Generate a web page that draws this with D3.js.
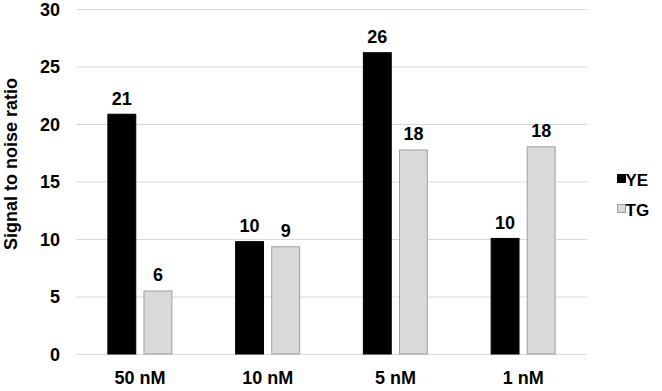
<!DOCTYPE html>
<html>
<head>
<meta charset="utf-8">
<script src="https://cdn.jsdelivr.net/npm/d3@7"></script>
<style>
  body { margin: 0; background: #fff; }
  text { font-family: "Liberation Sans", Arial, sans-serif; font-weight: bold; fill: #000; }
</style>
</head>
<body>
<svg></svg>
<script>
const categories = ['50 nM', '10 nM', '5 nM', '1 nM']
const seriesNames = ['YE', 'TG']
const yeValues = [20.85, 9.77, 26.2, 10.05]
const tgValues = [5.48, 9.33, 17.74, 18.02]
const yeLabels = ['21', '10', '26', '10']
const tgLabels = ['6', '9', '18', '18']
const yTicks = [0, 5, 10, 15, 20, 25, 30]

const width = 662
const height = 391
const margin = {left: 76, right: 75, top: 9, bottom: 37}

const svg = d3.select('svg')
    .attr('width', width)
    .attr('height', height)

let xScale = d3.scaleBand()
    .domain(categories)
    .range([margin.left, width - margin.right])

let inner = d3.scaleBand()
    .domain(seriesNames)
    .range([xScale.bandwidth()/2 - 32.5, xScale.bandwidth()/2 + 32.5])
    .paddingInner(0.2)

let yScale = d3.scaleLinear()
    .domain([0, 30])
    .range([height - margin.bottom, margin.top])

// grid
svg.append('g')
    .selectAll('line')
    .data(yTicks)
    .enter()
    .append('line')
    .attr('x1', margin.left)
    .attr('x2', width - margin.right)
    .attr('y1', d => yScale(d) + 0.5)
    .attr('y2', d => yScale(d) + 0.5)
    .attr('stroke', '#d9d9d9')
    .attr('stroke-width', 1)

// y axis labels
let yAxis = d3.axisLeft(yScale).tickValues(yTicks).tickSize(0).tickPadding(16)
let yg = svg.append('g')
    .attr('transform', 'translate(' + margin.left + ',0)')
    .call(yAxis)
yg.select('.domain').remove()
yg.selectAll('text').style('font-size', '18px').attr('dy', '0.36em')

// x axis labels
let xAxis = d3.axisBottom(xScale).tickSize(0).tickPadding(17)
let xg = svg.append('g')
    .attr('transform', 'translate(0,' + (height - margin.bottom) + ')')
    .call(xAxis)
xg.select('.domain').remove()
xg.selectAll('text').style('font-size', '18px')

let series = [
    {name: 'YE', values: yeValues, labels: yeLabels, fill: '#000000', stroke: '#000000'},
    {name: 'TG', values: tgValues, labels: tgLabels, fill: '#d9d9d9', stroke: '#a0a0a0'}
]

series.forEach(s => {
    let g = svg.append('g')
    g.selectAll('rect')
        .data(categories)
        .enter()
        .append('rect')
        .attr('x', (c) => xScale(c) + inner(s.name) + 0.5)
        .attr('width', inner.bandwidth() - 1)
        .attr('y', (c, i) => yScale(s.values[i]))
        .attr('height', (c, i) => yScale(0) - yScale(s.values[i]))
        .attr('fill', s.fill)
        .attr('stroke', s.stroke)
        .attr('stroke-width', 1)
    g.selectAll('text')
        .data(categories)
        .enter()
        .append('text')
        .attr('x', (c) => xScale(c) + inner(s.name) + inner.bandwidth()/2)
        .attr('y', (c, i) => yScale(s.values[i]) - 9.5)
        .attr('text-anchor', 'middle')
        .style('font-size', '18px')
        .text((c, i) => s.labels[i])
})

// y title
svg.append('text')
    .attr('transform', 'translate(17,164) rotate(-90)')
    .attr('text-anchor', 'middle')
    .style('font-size', '18px')
    .text('Signal to noise ratio')

// legend
let legend = svg.append('g')
    .selectAll('g')
    .data(series)
    .enter()
    .append('g')
    .attr('transform', (d, i) => 'translate(617,' + (174 + i*30) + ')')
legend.append('rect')
    .attr('x', 0.5)
    .attr('y', 0.5)
    .attr('width', 8)
    .attr('height', 8)
    .attr('fill', d => d.fill)
    .attr('stroke', d => d.stroke)
legend.append('text')
    .attr('x', 8.5)
    .attr('y', 11.5)
    .style('font-size', '17px')
    .text(d => d.name)
</script>
</body>
</html>
